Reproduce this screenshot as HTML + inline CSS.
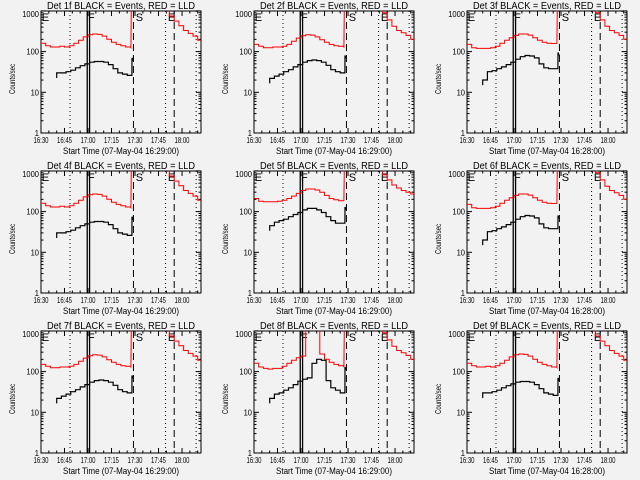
<!DOCTYPE html>
<html><head><meta charset="utf-8"><style>
html,body{margin:0;padding:0;background:#f2f2f2;}
svg{display:block;font-family:"Liberation Sans",sans-serif;}
</style></head><body>
<svg id="chart" width="640" height="480" viewBox="0 0 640 480" xmlns="http://www.w3.org/2000/svg">
<rect x="0" y="0" width="640" height="480" fill="#f2f2f2"/>
</svg>
<script>
// time axis: minutes since 16:30
const xTickLabels = ["16:30","16:45","17:00","17:15","17:30","17:45","18:00"];
const xTickMinutes = [0,15,30,45,60,75,90];
const yTickLabels = ["1","10","100","1000"];
const yTickValues = [1,10,100,1000];
const detectors = ["1f","2f","3f","4f","5f","6f","7f","8f","9f"];
// pre-event red (LLD) every 3 min 16:30..17:27
const redPreTimes = [0,3,6,9,12,15,18,21,24,27,30,33,36,39,42,45,48,51,54,57];
const redPreA = [160,140,130,130,135,130,140,160,190,230,260,270,265,240,200,170,150,140,130,125];
const redPreB = [150,135,125,125,130,130,135,150,180,215,245,260,255,230,195,170,150,140,135,130];
const redPreC = [150,125,120,120,120,125,135,160,190,220,250,270,270,255,220,190,170,160,158,160];
const redPreD = [210,180,175,175,175,180,190,210,240,280,330,360,360,340,300,250,210,195,185,190];
const redPreE = [160,130,120,115,120,120,135,160,190,220,240,1500,1500,1500,270,200,170,150,140,130];
// black (events) every 3 min 16:40..17:25
const blkTimes = [10,13,16,19,22,25,28,31,34,37,40,43,46,49,52,55];
const blkA = [30,30,32,35,40,45,50,55,57,57,55,48,38,30,28,26];
const blkB = [22,25,28,32,36,42,48,55,60,62,60,55,46,36,32,30];
const blkC = [20,32,34,38,42,48,55,65,75,80,78,70,50,40,38,38];
const blkD = [45,55,60,65,75,85,95,110,120,120,110,95,75,60,52,52];
const blkE = [22,28,30,35,40,48,58,65,70,160,200,190,60,40,35,30];
// post red every 3 min 17:49..18:10
const redPostTimes = [79,82,85,88,91,94,97,100];
const redPostA = [1100,750,560,430,330,280,240,190];
const redPostB = [1100,900,600,420,330,290,250,200];
const redPostD = [1100,800,600,450,380,330,300,270];
const redSpike = [1100,1100,1100,1100,1100,1100,1100,1100,1100];
const blkSpike = [70,80,95,75,130,80,80,130,70];
const panelRed = [redPreA,redPreB,redPreC,redPreA,redPreD,redPreC,redPreB,redPreE,redPreA];
const panelBlk = [blkA,blkB,blkC,blkA,blkD,blkC,blkB,blkE,blkA];
const panelPost = [redPostA,redPostB,redPostB,redPostA,redPostD,redPostB,redPostA,redPostB,redPostA];
const panelDate = ["07-May-04 16:29:00","07-May-04 16:29:00","07-May-04 16:28:00","07-May-04 16:29:00","07-May-04 16:29:00","07-May-04 16:28:00","07-May-04 16:29:00","07-May-04 16:29:00","07-May-04 16:28:00"];
// event markers (minutes)
const dottedLines = [18.5,79.5,99];
const solidLines = [29.5,31];
const dashedLines = [59,85];
const markerLetters = ["E","F","S","E"];
const markerTimes = [0.5,30,60.5,81];

const NS="http://www.w3.org/2000/svg";
const svg=document.getElementById('chart');
const L=41,R=201,T=11,B=133;
function xs(m){return L+m*1.567;}
function ys(v){return B-40.7*Math.log10(v);}
function mk(tag,attrs,parent){const e=document.createElementNS(NS,tag);for(const k in attrs)e.setAttribute(k,attrs[k]);parent.appendChild(e);return e;}
function stepPath(times,vals,dt){let d="";for(let i=0;i<times.length;i++){const x0=xs(times[i]),x1=xs(times[i]+dt),y=ys(vals[i]);d+=(i===0?"M":"L")+x0.toFixed(1)+","+y.toFixed(1)+"L"+x1.toFixed(1)+","+y.toFixed(1);}return d;}

for(let p=0;p<9;p++){
  const ox=(p%3)*213, oy=Math.floor(p/3)*160;
  const g=mk('g',{transform:`translate(${ox},${oy})`},svg);
  
  
  const cp=mk('clipPath',{id:'cp'+p},g);mk('rect',{x:L,y:T,width:R-L,height:B-T},cp);
  const t=mk('text',{x:47,y:9,'font-size':'10',textLength:148,lengthAdjust:'spacingAndGlyphs',fill:'#000'},g);
  t.textContent=`Det ${detectors[p]} BLACK = Events, RED = LLD`;
  
  
  const box=mk('rect',{x:L,y:T,width:R-L,height:B-T,fill:'none',stroke:'#000','stroke-width':1},g);
  
  
  yTickValues.forEach((v,i)=>{
    const y=ys(v);
    mk('line',{x1:L,x2:L+5,y1:y,y2:y,stroke:'#000'},g);
    mk('line',{x1:R-5,x2:R,y1:y,y2:y,stroke:'#000'},g);
    const s=yTickLabels[i];
    const tl=mk('text',{x:39,y:Math.max(y+3,17),'font-size':'8.5','text-anchor':'end',textLength:s.length*4.2,lengthAdjust:'spacingAndGlyphs'},g);
    tl.textContent=s;
    
    
    if(v<1000)for(let k=2;k<10;k++){const yy=ys(v*k);mk('line',{x1:L,x2:L+2.5,y1:yy,y2:yy,stroke:'#000'},g);mk('line',{x1:R-2.5,x2:R,y1:yy,y2:yy,stroke:'#000'},g);}
  });
  const yt=mk('text',{x:0,y:0,'font-size':'8','text-anchor':'middle',textLength:30,lengthAdjust:'spacingAndGlyphs',transform:'translate(15,79) rotate(-90)'},g);
  yt.textContent='Counts/sec';
  
  
  xTickMinutes.forEach((m,i)=>{
    const x=xs(m);
    mk('line',{x1:x,x2:x,y1:B,y2:B-5,stroke:'#000'},g);
    mk('line',{x1:x,x2:x,y1:T,y2:T+5,stroke:'#000'},g);
    for(let k=1;k<3;k++){const xx=xs(m+k*5);if(xx<R){mk('line',{x1:xx,x2:xx,y1:B,y2:B-2.5,stroke:'#000'},g);mk('line',{x1:xx,x2:xx,y1:T,y2:T+2.5,stroke:'#000'},g);}}
    const tl=mk('text',{x:x-7.5,y:143,'font-size':'8.5',textLength:15,lengthAdjust:'spacingAndGlyphs'},g);
    tl.textContent=xTickLabels[i];
    
    
  });
  const xt=mk('text',{x:63,y:154,'font-size':'9',textLength:116,lengthAdjust:'spacingAndGlyphs'},g);
  xt.textContent=`Start Time (${panelDate[p]})`;
  
  
  dottedLines.forEach(m=>{const l=mk('line',{x1:xs(m),x2:xs(m),y1:T,y2:B,stroke:'#000','stroke-dasharray':'1,3'},g);});
  solidLines.forEach(m=>{const l=mk('line',{x1:xs(m),x2:xs(m),y1:T,y2:B,stroke:'#000','stroke-width':1.3},g);});
  dashedLines.forEach(m=>{const l=mk('line',{x1:xs(m),x2:xs(m),y1:T,y2:B,stroke:'#000','stroke-dasharray':'7,4'},g);});
  markerLetters.forEach((s,i)=>{const tl=mk('text',{x:xs(markerTimes[i]),y:21,'font-size':'11'},g);tl.textContent=s;});
  const dg=mk('g',{'clip-path':`url(#cp${p})`},g);
  let rd=stepPath(redPreTimes,panelRed[p],0.6*3).replace(/^/,'')+'';
  rd=stepPath(redPreTimes.slice(0,19),panelRed[p].slice(0,19),3)+`L${xs(57.4).toFixed(1)},${ys(panelRed[p][19]).toFixed(1)}L${xs(57.6).toFixed(1)},${ys(redSpike[p]).toFixed(1)}`;
  const r1=mk('path',{d:rd,fill:'none',stroke:'#ff0000','stroke-width':1},dg);
  
  
  const r2=mk('path',{d:stepPath(redPostTimes,panelPost[p],3),fill:'none',stroke:'#ff0000','stroke-width':1},dg);
  
  
  const bv=panelBlk[p];
  let bd=`M${xs(blkTimes[0]).toFixed(1)},${ys(bv[0]*0.75).toFixed(1)}`+stepPath(blkTimes,bv,3).replace('M','L')+`L${xs(58).toFixed(1)},${ys(bv[15]).toFixed(1)}L${xs(58.1).toFixed(1)},${ys(blkSpike[p]).toFixed(1)}L${xs(58.8).toFixed(1)},${ys(blkSpike[p]*0.85).toFixed(1)}`;
  const b1=mk('path',{d:bd,fill:'none',stroke:'#000','stroke-width':1.2},dg);
  
  
}
</script>
</body></html>
